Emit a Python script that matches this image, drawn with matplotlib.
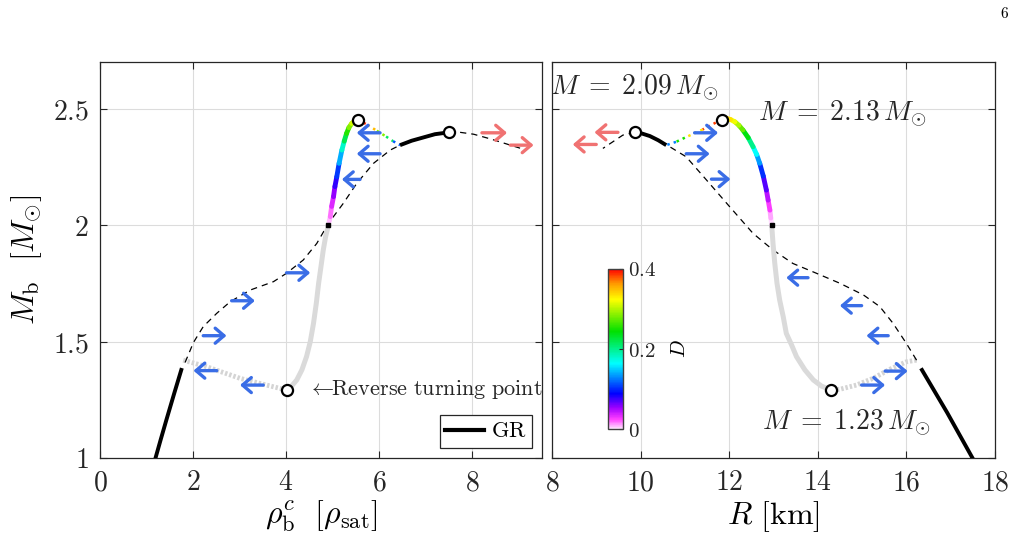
import numpy as np
import matplotlib.pyplot as plt
from matplotlib.collections import LineCollection
from matplotlib.colors import LinearSegmentedColormap, Normalize
from matplotlib.lines import Line2D

plt.rcParams['mathtext.fontset'] = 'cm'
plt.rcParams['font.family'] = 'serif'
plt.rcParams['font.serif'] = ['DejaVu Serif']

# ---- left panel: central density vs baryon mass ----
rho_gr_lo = [1.18, 1.30, 1.43, 1.60, 1.76]
mb_gr_lo = [0.99, 1.075, 1.165, 1.28, 1.386]
rho_rev = [1.79, 2.29, 3.01, 3.58, 4.01]
mb_rev = [1.42, 1.392, 1.342, 1.313, 1.292]
rho_dash = [1.83, 2.01, 2.22, 2.51, 2.80, 3.23, 3.73, 4.01, 4.37, 4.66, 4.91,
            5.23, 5.52, 5.88, 6.24, 6.45]
mb_dash = [1.41, 1.496, 1.564, 1.621, 1.671, 1.721, 1.757, 1.793, 1.850, 1.921,
           2.007, 2.093, 2.179, 2.265, 2.322, 2.343]
rho_gray = [4.01, 4.12, 4.23, 4.34, 4.44, 4.52, 4.59, 4.65, 4.70, 4.75, 4.80, 4.85, 4.91]
mb_gray = [1.292, 1.309, 1.335, 1.378, 1.435, 1.499, 1.578, 1.664, 1.750, 1.821,
           1.893, 1.950, 2.0]
rho_col = [4.91, 4.93, 4.95, 4.98, 5.02, 5.05, 5.09, 5.14, 5.20, 5.25, 5.30, 5.35,
           5.41, 5.47, 5.54]
mb_col = [2.0, 2.018, 2.036, 2.08, 2.122, 2.165, 2.207, 2.265, 2.322, 2.36, 2.393,
          2.418, 2.436, 2.447, 2.453]
d_col_l = [0.0, 0.005, 0.01, 0.025, 0.045, 0.065, 0.09, 0.12, 0.16, 0.20, 0.24,
           0.27, 0.30, 0.32, 0.33]
rho_dot = [5.54, 5.75, 5.95, 6.15, 6.30, 6.45]
mb_dot = [2.453, 2.43, 2.405, 2.38, 2.36, 2.343]
d_dot_l = [0.40, 0.38, 0.32, 0.25, 0.18, 0.05]
rho_gr_hi = [6.45, 6.70, 6.95, 7.2, 7.5]
mb_gr_hi = [2.343, 2.362, 2.376, 2.39, 2.398]
rho_tail = [7.5, 7.67, 8.03, 8.39, 9.03]
mb_tail = [2.398, 2.40, 2.39, 2.37, 2.33]
rho_circ = [4.01, 5.54, 7.5]
mb_circ_l = [1.292, 2.453, 2.398]

# arrows: (start, end, height)
arr_blue_l = [(2.22, 2.72, 1.525), (2.83, 3.33, 1.675), (4.01, 4.52, 1.795),
              (2.51, 2.01, 1.375), (3.51, 3.01, 1.313), (5.59, 5.20, 2.196),
              (6.02, 5.52, 2.306), (6.02, 5.52, 2.396)]
arr_red_l = [(8.21, 8.75, 2.396), (8.82, 9.32, 2.343)]

# ---- right panel: radius vs baryon mass ----
r_gr_lo = [17.51, 16.92, 16.33]
mbr_gr_lo = [0.994, 1.195, 1.385]
r_rev = [16.23, 16.0, 15.63, 15.25, 14.87, 14.50, 14.30]
mbr_rev = [1.42, 1.413, 1.381, 1.342, 1.313, 1.295, 1.292]
r_dash = [16.23, 16.0, 15.70, 15.40, 15.03, 14.50, 13.97, 13.44, 12.99, 12.54,
          12.01, 11.49, 11.03, 10.66, 10.58]
mbr_dash = [1.42, 1.492, 1.578, 1.650, 1.700, 1.750, 1.793, 1.835, 1.893, 1.964,
            2.079, 2.193, 2.293, 2.336, 2.343]
r_gray = [14.30, 14.08, 13.90, 13.71, 13.52, 13.41, 13.29, 13.22, 13.14, 13.08,
          13.03, 12.99, 12.96]
mbr_gray = [1.292, 1.309, 1.335, 1.378, 1.435, 1.485, 1.535, 1.607, 1.678, 1.750,
            1.835, 1.921, 2.0]
r_col = [12.96, 12.94, 12.92, 12.88, 12.84, 12.77, 12.69, 12.62, 12.54, 12.43,
         12.31, 12.22, 12.13, 12.03, 11.94, 11.83]
mbr_col = [2.0, 2.03, 2.064, 2.107, 2.150, 2.21, 2.265, 2.303, 2.336, 2.375, 2.408,
           2.428, 2.443, 2.453, 2.458, 2.453]
d_col_r = [0.0, 0.005, 0.015, 0.035, 0.055, 0.085, 0.12, 0.15, 0.18, 0.22, 0.26,
           0.29, 0.31, 0.33, 0.34, 0.35]
r_dot = [11.83, 11.4, 11.0, 10.8, 10.58]
mbr_dot = [2.453, 2.41, 2.375, 2.357, 2.343]
d_dot_r = [0.40, 0.37, 0.30, 0.20, 0.05]
r_gr_hi = [10.58, 10.40, 10.21, 10.03, 9.87]
mbr_gr_hi = [2.343, 2.364, 2.382, 2.393, 2.398]
r_tail = [9.87, 9.60, 9.15]
mbr_tail = [2.398, 2.386, 2.329]
r_circ = [14.30, 11.83, 9.87]
mb_circ_r = [1.292, 2.453, 2.398]

arr_blue_r = [(11.22, 11.75, 2.396), (11.03, 11.56, 2.306), (11.60, 12.03, 2.197),
              (13.78, 13.29, 1.774), (14.99, 14.50, 1.654), (15.59, 15.10, 1.525),
              (14.99, 15.52, 1.313), (15.52, 16.03, 1.373)]
arr_red_r = [(9.49, 8.96, 2.398), (9.00, 8.47, 2.346)]

mass_labels = ['2.09', '2.13', '1.23']
mass_pos = [(7.95, 2.592), (12.65, 2.48), (12.74, 1.15)]

d_cmap = LinearSegmentedColormap.from_list('dmap', [
    (0.0, '#ffe8ff'), (0.06, '#ff40ff'), (0.13, '#a000ff'), (0.22, '#0000ff'),
    (0.41, '#00ffff'), (0.61, '#00e000'), (0.81, '#ffff00'), (0.91, '#ff9900'),
    (1.0, '#ff0000')])
d_norm = Normalize(0, 0.4)

blue = '#3a6de6'
red = '#f07272'
gray = '#dadada'
arrow_style = '->,head_width=0.3,head_length=0.35'


def color_line(ax, x, y, d, **kw):
    pts = np.column_stack([x, y])
    segs = np.stack([pts[:-1], pts[1:]], axis=1)
    dm = (np.array(d[:-1]) + np.array(d[1:])) / 2
    lc = LineCollection(segs, cmap=d_cmap, norm=d_norm, **kw)
    lc.set_array(dm)
    ax.add_collection(lc)
    return lc


def draw_panel(ax, gr_lo, rev, dash, gray_c, col, dcol, dot, ddot, gr_hi, tail,
               circ, blues, reds):
    ax.plot(*gr_lo, color='k', lw=2.8, solid_capstyle='butt', zorder=4)
    ax.plot(*rev, color='#d4d4d4', lw=3.5, ls=(0, (0.5, 0.4)), zorder=3)
    ax.plot(*dash, color='k', lw=0.9, ls=(0, (5, 4)), zorder=3)
    ax.plot(*gray_c, color=gray, lw=3.6, zorder=3)
    color_line(ax, col[0], col[1], dcol, lw=3.5, capstyle='round', zorder=4)
    color_line(ax, dot[0], dot[1], ddot, lw=1.8, linestyles=':', zorder=4)
    ax.plot(*gr_hi, color='k', lw=2.8, solid_capstyle='butt', zorder=4)
    ax.plot(*tail, color='k', lw=0.9, ls=(0, (5, 4)), zorder=3)
    ax.plot(col[0][0], col[1][0], 's', color='k', ms=3, zorder=5)
    ax.plot(*circ, 'o', mfc='white', mec='k', ms=8, mew=1.6, ls='none', zorder=6)
    for x0, x1, y in blues:
        ax.annotate('', xy=(x1, y), xytext=(x0, y),
                    arrowprops=dict(arrowstyle=arrow_style, color=blue, lw=2.4,
                                    mutation_scale=18, shrinkA=0, shrinkB=0),
                    zorder=5)
    for x0, x1, y in reds:
        ax.annotate('', xy=(x1, y), xytext=(x0, y),
                    arrowprops=dict(arrowstyle=arrow_style, color=red, lw=2.4,
                                    mutation_scale=18, shrinkA=0, shrinkB=0),
                    zorder=5)


def style_axes(ax, xticks):
    ax.set_xticks(xticks, labels=[f'${t:g}$' for t in xticks])
    ax.set_ylim(1, 2.7)
    ax.set_yticks([1, 1.5, 2, 2.5])
    ax.grid(True, color='#dcdcdc', lw=0.8)
    ax.set_axisbelow(True)
    ax.tick_params(direction='in', top=True, right=True, length=5, width=0.8,
                   colors='#262626', labelsize=20, pad=8)
    for s in ax.spines.values():
        s.set_color('#262626')
        s.set_linewidth(0.9)


fig = plt.figure(figsize=(10.21, 5.51), dpi=100)
ax1 = fig.add_axes([0.0979, 0.1688, 0.4329, 0.7187])
ax2 = fig.add_axes([0.5406, 0.1688, 0.4339, 0.7187])

draw_panel(ax1, (rho_gr_lo, mb_gr_lo), (rho_rev, mb_rev), (rho_dash, mb_dash),
           (rho_gray, mb_gray), (rho_col, mb_col), d_col_l, (rho_dot, mb_dot),
           d_dot_l, (rho_gr_hi, mb_gr_hi), (rho_tail, mb_tail),
           (rho_circ, mb_circ_l), arr_blue_l, arr_red_l)
draw_panel(ax2, (r_gr_lo, mbr_gr_lo), (r_rev, mbr_rev), (r_dash, mbr_dash),
           (r_gray, mbr_gray), (r_col, mbr_col), d_col_r, (r_dot, mbr_dot),
           d_dot_r, (r_gr_hi, mbr_gr_hi), (r_tail, mbr_tail),
           (r_circ, mb_circ_r), arr_blue_r, arr_red_r)

style_axes(ax1, [0, 2, 4, 6, 8])
ax1.set_xlim(0, 9.5)
ax1.set_yticklabels(['$1$', '$1.5$', '$2$', '$2.5$'])
ax1.set_xlabel(r'$\rho_{\mathrm{b}}^{c}\ \ [\rho_{\mathrm{sat}}]$', fontsize=23, labelpad=2)
ax1.set_ylabel(r'$M_{\mathrm{b}}\ \ [M_{\odot}]$', fontsize=23, labelpad=6)

style_axes(ax2, [8, 10, 12, 14, 16, 18])
ax2.set_xlim(8, 18)
ax2.set_yticklabels([])
ax2.set_xlabel(r'$R\ [\mathrm{km}]$', fontsize=23, labelpad=2)

ax1.text(4.48, 1.296, r'$\leftarrow\!\!\mathrm{Reverse\ turning\ point}$',
         fontsize=16, va='center', ha='left', color='#262626')
leg = ax1.legend(handles=[Line2D([], [], color='k', lw=3)], labels=[r'$\mathrm{GR}$'],
                 loc='lower right', fontsize=16, fancybox=False, framealpha=1,
                 edgecolor='#262626', handlelength=1.75, handletextpad=0.3,
                 borderpad=0.25, borderaxespad=0.45)
leg.get_frame().set_linewidth(0.9)

for lab, (x, y) in zip(mass_labels, mass_pos):
    ax2.text(x, y, rf'$M\;=\;{lab}\,M_{{\odot}}$', fontsize=20, va='center',
             ha='left', color='#262626', zorder=7)

cax = fig.add_axes([0.5955, 0.2214, 0.0147, 0.2904])
sm = plt.cm.ScalarMappable(norm=d_norm, cmap=d_cmap)
cb = fig.colorbar(sm, cax=cax, ticks=[0, 0.2, 0.4])
cb.ax.set_yticklabels(['$0$', '$0.2$', '$0.4$'])
cb.ax.tick_params(labelsize=15, length=3, width=0.8, colors='#262626', direction='in')
cb.outline.set_edgecolor('#404040')
cb.outline.set_linewidth(1.0)
cb.set_label('$D$', fontsize=15, labelpad=10)

fig.text(0.984, 0.975, '$6$', fontsize=11, ha='center', va='center')

fig.savefig('out.png', dpi=100)
